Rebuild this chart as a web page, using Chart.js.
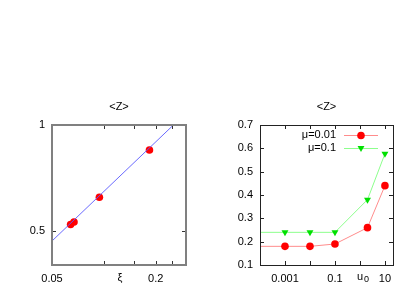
<!DOCTYPE html>
<html><head><meta charset="utf-8">
<script src="https://cdn.jsdelivr.net/npm/chart.js@4/dist/chart.umd.min.js"></script>
<style>
html,body{margin:0;padding:0;background:#fff;}
#wrap{position:relative;width:415px;height:291px;overflow:hidden;}
canvas{position:absolute;top:0;}
</style></head><body>
<div id="wrap">
<canvas id="c1" width="207" height="291" style="left:0;width:207px;height:291px"></canvas>
<canvas id="c2" width="208" height="291" style="left:207px;width:208px;height:291px"></canvas>
</div>
<script>
// ---- Left panel data ----
const xiValues = [0.0641, 0.0671, 0.0942, 0.184];
const zLeftValues = [0.5216, 0.530, 0.623, 0.849];
const fitX = [0.05, 0.2535];
const fitY = [0.468, 1.0];
const leftXTicks = [0.05, 0.1, 0.15, 0.2, 0.25];
const leftXLabels = ['0.05', '', '', '0.2', ''];
const leftYTicks = [0.5, 1];
const leftYLabels = ['0.5', '1'];
// ---- Right panel data ----
const u0Values = [0.00001, 0.001, 0.01, 0.1, 2, 10];
const zMu001 = [0.18, 0.18, 0.18, 0.19, 0.26, 0.44];
const zMu01 = [0.24, 0.24, 0.24, 0.24, 0.38, 0.577];
const rightXTicks = [0.001, 0.01, 0.1, 1, 10];
const rightXLabels = ['0.001', '', '0.1', '', '10'];
const rightYTicks = [0.1, 0.2, 0.3, 0.4, 0.5, 0.6, 0.7];
const rightYLabels = ['0.1', '0.2', '0.3', '0.4', '0.5', '0.6', '0.7'];

const FONT = "'Liberation Sans', Arial, Helvetica, sans-serif";
const font = {family: FONT, size: 11, weight: 'normal', lineHeight: 1.2};

const framePlugin = {
  id: 'frame',
  afterDatasetsDraw(chart, args, opts) {
    const {ctx, chartArea: a} = chart;
    const xs = chart.scales.x, ys = chart.scales.y;
    const tl = 4;
    ctx.save();
    ctx.strokeStyle = opts.tickColor;
    ctx.lineWidth = 1;
    ctx.beginPath();
    xs.ticks.forEach(t => {
      const p = Math.round(xs.getPixelForValue(t.value)) + 0.5;
      ctx.moveTo(p, a.bottom); ctx.lineTo(p, a.bottom - tl);
      ctx.moveTo(p, a.top); ctx.lineTo(p, a.top + tl);
    });
    ys.ticks.forEach(t => {
      const p = Math.round(ys.getPixelForValue(t.value)) + 0.5;
      ctx.moveTo(a.left, p); ctx.lineTo(a.left + tl, p);
      ctx.moveTo(a.right, p); ctx.lineTo(a.right - tl, p);
    });
    ctx.stroke();
    ctx.strokeStyle = opts.color;
    ctx.lineWidth = opts.width;
    const o = opts.width % 2 ? 0.5 : 0;
    ctx.strokeRect(a.left + o, a.top + o, a.right - a.left, a.bottom - a.top);
    ctx.restore();
  }
};

const axisTitlePlugin = {
  id: 'axisTitle',
  afterDraw(chart, args, opts) {
    const {ctx, chartArea: a} = chart;
    ctx.save();
    ctx.fillStyle = '#000';
    ctx.font = "11px " + FONT;
    ctx.textBaseline = 'middle';
    ctx.textAlign = 'center';
    const x = a.left + opts.dx;
    const y = a.bottom + opts.dy;
    if (opts.sub) {
      ctx.textAlign = 'left';
      const w = ctx.measureText(opts.text).width;
      ctx.fillText(opts.text, x - w, y - 1);
      ctx.font = "9px " + FONT;
      ctx.fillText(opts.sub, x + 1, y + 2);
    } else {
      ctx.fillText(opts.text, x, y);
    }
    ctx.restore();
  }
};

const keyPlugin = {
  id: 'key',
  afterDraw(chart, args, opts) {
    if (!opts.show) return;
    const {ctx, chartArea: a} = chart;
    ctx.save();
    chart.data.datasets.forEach((ds, i) => {
      if (!ds.label) return;
      const y = a.top + opts.top + i * opts.step;
      ctx.fillStyle = '#000';
      ctx.font = "11px " + FONT;
      ctx.textAlign = 'right';
      ctx.textBaseline = 'middle';
      ctx.fillText(ds.label, a.left + opts.textRight, y);
      ctx.strokeStyle = ds.borderColor;
      ctx.lineWidth = 1;
      ctx.beginPath();
      ctx.moveTo(a.left + opts.lineStart, y + 0.5);
      ctx.lineTo(a.left + opts.lineEnd, y + 0.5);
      ctx.stroke();
      ctx.fillStyle = ds.pointBackgroundColor;
      ctx.strokeStyle = ds.pointBorderColor;
      Chart.helpers.drawPoint(ctx, {
        pointStyle: ds.pointStyle, radius: ds.pointRadius,
        rotation: ds.rotation || 0, borderWidth: 0
      }, (a.left + opts.lineStart + a.left + opts.lineEnd) / 2, y + (ds.pointStyle === 'triangle' ? 0 : 0.5));
    });
    ctx.restore();
  }
};

function tickAxis(type, min, max, ticks, labels, fit, isX) {
  return {
    type, min, max,
    afterBuildTicks: s => { s.ticks = ticks.map(v => ({value: v})); },
    afterFit: s => { if (isX) s.height = fit; else s.width = fit; },
    ticks: {
      autoSkip: false, maxRotation: 0, minRotation: 0,
      padding: isX ? 7 : 7, color: '#000', font,
      callback: (v, i) => labels[i]
    },
    grid: {display: false, drawTicks: false},
    border: {display: false}
  };
}

function baseOptions(xAxis, yAxis, rightPad, extra) {
  return {
    responsive: false, animation: false, maintainAspectRatio: false,
    layout: {padding: {left: 0, right: rightPad, top: 100, bottom: 0}},
    scales: {x: xAxis, y: yAxis},
    plugins: Object.assign({
      legend: {display: false},
      tooltip: {enabled: false},
      title: {display: true, text: '<Z>', fullSize: false, color: '#000',
              font, padding: {top: 0, bottom: 11.8}}
    }, extra)
  };
}

new Chart(document.getElementById('c1'), {
  type: 'scatter',
  data: {
    datasets: [
      {
        data: fitX.map((x, i) => ({x, y: fitY[i]})),
        showLine: true, borderColor: 'rgba(90,90,255,0.9)', borderWidth: 1,
        pointRadius: 0
      },
      {
        data: xiValues.map((x, i) => ({x, y: zLeftValues[i]})),
        showLine: false, pointStyle: 'circle', pointRadius: 3.8,
        pointBackgroundColor: '#ff0000', pointBorderColor: '#ff0000', pointBorderWidth: 0,
        backgroundColor: '#ff0000', borderColor: '#ff0000'
      }
    ]
  },
  options: baseOptions(
    tickAxis('logarithmic', 0.05, 0.3, leftXTicks, leftXLabels, 26, true),
    tickAxis('logarithmic', 0.4, 1, leftYTicks, leftYLabels, 52, false),
    21,
    {frame: {color: '#808080', width: 2, tickColor: '#333'},
     axisTitle: {text: 'ξ', dx: 68, dy: 13},
     key: {show: false}}
  ),
  plugins: [framePlugin, axisTitlePlugin, keyPlugin]
});

new Chart(document.getElementById('c2'), {
  type: 'scatter',
  data: {
    datasets: [
      {
        label: 'μ=0.01',
        data: u0Values.map((x, i) => ({x, y: zMu001[i]})),
        showLine: true, borderColor: '#ff8c8c', borderWidth: 1,
        pointStyle: 'circle', pointRadius: 3.8,
        pointBackgroundColor: '#ff0000', pointBorderColor: '#ff0000', pointBorderWidth: 0,
        backgroundColor: '#ff0000'
      },
      {
        label: 'μ=0.1',
        data: u0Values.map((x, i) => ({x, y: zMu01[i]})),
        showLine: true, borderColor: '#8cff8c', borderWidth: 1,
        pointStyle: 'triangle', rotation: 180, pointRadius: 4,
        pointBackgroundColor: '#00e000', pointBorderColor: '#00e000', pointBorderWidth: 0,
        backgroundColor: '#00e000'
      }
    ]
  },
  options: baseOptions(
    tickAxis('logarithmic', 0.0001, 21, rightXTicks, rightXLabels, 26, true),
    tickAxis('linear', 0.1, 0.7, rightYTicks, rightYLabels, 53, false),
    22,
    {frame: {color: '#222', width: 1, tickColor: '#222'},
     axisTitle: {text: 'u', sub: '0', dx: 103, dy: 13},
     key: {show: true, top: 10, step: 13, textRight: 76, lineStart: 84, lineEnd: 118}}
  ),
  plugins: [framePlugin, axisTitlePlugin, keyPlugin]
});
</script>
</body></html>
